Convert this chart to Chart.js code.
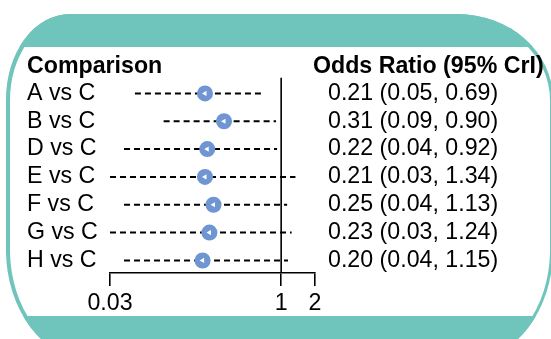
<!DOCTYPE html>
<html>
<head>
<meta charset="utf-8">
<script src="https://cdn.jsdelivr.net/npm/chart.js@4"></script>
<style>
  html, body { margin: 0; padding: 0; background: #fff; }
  #page { position: relative; width: 551px; height: 339px; overflow: hidden; }
  #frame {
    position: absolute; left: 6px; top: 14px; width: 547px; height: 346px;
    background: #6fc5bb; overflow: hidden;
    border-radius: 64px 96px 85px 85px / 85px 85px 110px 110px;
  }
  #inner {
    position: absolute; left: 3.5px; top: 3.5px; right: 3.5px; bottom: 3.5px;
    background: #fff;
    border-radius: 61px 93px 82px 82px / 82px 82px 107px 107px;
  }
  .band { position: absolute; left: 0; right: 0; background: #6fc5bb; }
  #wrap { position: absolute; left: 0; top: 0; width: 551px; height: 339px; }
</style>
</head>
<body>
<div id="page">
  <div id="frame">
    <div id="inner"></div>
    <div class="band" style="top:0; height:33px;"></div>
    <div class="band" style="top:302px; bottom:0;"></div>
  </div>
  <div id="wrap"><canvas id="forest"></canvas></div>
</div>
<script>
const headers = ['Comparison', 'Odds Ratio (95% CrI)'];
const comparisons = ['A vs C', 'B vs C', 'D vs C', 'E vs C', 'F vs C', 'G vs C', 'H vs C'];
const oddsRatio = [0.21, 0.31, 0.22, 0.21, 0.25, 0.23, 0.20];
const lowerCrI = [0.05, 0.09, 0.04, 0.03, 0.04, 0.03, 0.04];
const upperCrI = [0.69, 0.90, 0.92, 1.34, 1.13, 1.24, 1.15];
const xTicks = [0.03, 1, 2];

const FONT = '"Liberation Sans", Arial, sans-serif';
const FSIZE = 23.2;
const BLUE = '#6f95d2';

const rowIdx = comparisons.map((c, i) => i);
const orText = rowIdx.map(i =>
  oddsRatio[i].toFixed(2) + ' (' + lowerCrI[i].toFixed(2) + ', ' + upperCrI[i].toFixed(2) + ')');

// dashed credible interval, one dataset per comparison
const intervalSets = rowIdx.map(i => ({
  data: [{ x: lowerCrI[i], y: i }, { x: upperCrI[i], y: i }],
  showLine: true,
  borderColor: '#000',
  borderWidth: 2,
  borderDash: [6, 4],
  pointRadius: 0,
  order: 2
}));

const headerPlugin = {
  id: 'headers',
  afterDraw(chart) {
    const ctx = chart.ctx;
    const y = chart.scales.y.getPixelForValue(-0.95);
    ctx.save();
    ctx.font = 'bold ' + FSIZE + 'px ' + FONT;
    ctx.fillStyle = '#000';
    ctx.textBaseline = 'middle';
    ctx.textAlign = 'left';
    ctx.fillText(headers[0], 27, y);
    ctx.fillText(headers[1], 313, y);
    ctx.restore();
  }
};

new Chart(document.getElementById('forest'), {
  type: 'scatter',
  data: {
    datasets: [
      // line of no effect
      {
        data: [{ x: 1, y: -0.56 }, { x: 1, y: 6.45 }],
        showLine: true, borderColor: '#000', borderWidth: 1.6, pointRadius: 0, order: 3
      },
      ...intervalSets,
      {
        data: rowIdx.map(i => ({ x: oddsRatio[i], y: i })),
        pointStyle: 'circle', pointRadius: 8, backgroundColor: BLUE, borderWidth: 0, order: 1
      },
      {
        data: rowIdx.map(i => ({ x: oddsRatio[i], y: i })),
        pointStyle: 'triangle', pointRotation: -90, pointRadius: 3,
        backgroundColor: '#fff', borderWidth: 0, order: 0
      }
    ]
  },
  options: {
    responsive: true,
    maintainAspectRatio: false,
    animation: false,
    layout: { padding: { left: 27, top: 53, right: 0, bottom: 0 } },
    plugins: { legend: { display: false }, tooltip: { enabled: false } },
    scales: {
      x: {
        type: 'logarithmic',
        min: 0.03, max: 2,
        afterBuildTicks: axis => { axis.ticks = xTicks.map(v => ({ value: v })); },
        afterFit: axis => { axis.height = 66; },
        ticks: {
          autoSkip: false, maxRotation: 0, padding: 4, color: '#000',
          font: { family: FONT, size: FSIZE },
          callback: v => String(v)
        },
        grid: { drawOnChartArea: false, drawTicks: true, tickLength: 13, color: '#000', lineWidth: 1.6 },
        border: { display: true, color: '#000', width: 1.6 }
      },
      y: {
        type: 'linear', reverse: true, min: -1.45, max: 6.45,
        afterBuildTicks: axis => { axis.ticks = rowIdx.map(v => ({ value: v })); },
        afterFit: axis => { axis.width = 83; },
        ticks: {
          autoSkip: false, crossAlign: 'far', padding: 0, color: '#000',
          font: { family: FONT, size: FSIZE },
          callback: v => comparisons[v]
        },
        grid: { display: false, drawTicks: false },
        border: { display: false }
      },
      y2: {
        type: 'linear', position: 'right', reverse: true, min: -1.45, max: 6.45,
        afterBuildTicks: axis => { axis.ticks = rowIdx.map(v => ({ value: v })); },
        afterFit: axis => { axis.width = 236; },
        ticks: {
          autoSkip: false, crossAlign: 'near', padding: 13, color: '#000',
          font: { family: FONT, size: FSIZE },
          callback: v => orText[v]
        },
        grid: { display: false, drawTicks: false },
        border: { display: false }
      }
    }
  },
  plugins: [headerPlugin]
});
</script>
</body>
</html>
